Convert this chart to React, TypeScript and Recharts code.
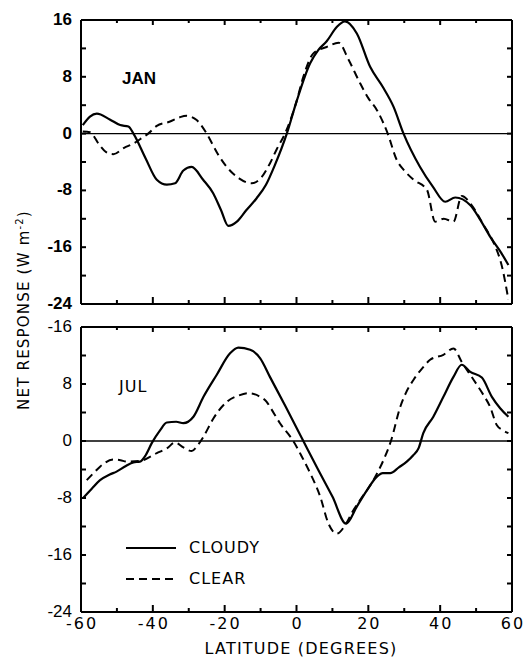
import { LineChart, Line, XAxis, YAxis, ReferenceLine } from 'recharts';

// latitude ticks (every 10, labelled every 20) and response ticks (every 4, labelled every 8)
const latTicks = [-60, -50, -40, -30, -20, -10, 0, 10, 20, 30, 40, 50, 60];
const responseTicks = [-24, -20, -16, -12, -8, -4, 0, 4, 8, 12, 16];

// January
const janCloudyLat = [-59.5, -57.5, -55.6, -52, -49.1, -46.8, -45.4, -42, -38.9, -36.1, -33.8, -31.5, -29.2, -26, -23.2, -21, -19, -16.6, -14, -11.1, -8.5, -6, -2.7, 0, 3.8, 6.1, 8.4, 11.2, 13.5, 16.8, 20.5, 24, 27, 29.8, 34.4, 38, 41.4, 44.2, 48.4, 51, 53.9, 57, 59];
const janCloudy = [1.2, 2.4, 2.8, 2.0, 1.2, 1.0, 0, -3.5, -6.5, -7.2, -7.0, -5.2, -4.7, -6.5, -8.4, -10.8, -13.0, -12.4, -10.8, -9.1, -7.2, -4.4, 0, 4.5, 9.9, 11.8, 13.0, 15.0, 15.8, 14.1, 9.4, 6.6, 3.8, 0, -4.7, -7.5, -9.6, -9.0, -10.1, -12.0, -14.5, -16.8, -18.5];
const janClearLat = [-59.5, -57.5, -55, -53, -51, -48, -45.4, -43, -41.3, -38.9, -35.2, -32.5, -30.6, -27.8, -25, -22, -19.4, -16, -12.5, -10, -7.4, -5.5, -3.2, 0, 1.9, 4.7, 8.4, 11.7, 14.5, 17.7, 20, 22.4, 25.4, 27.9, 30, 32.6, 36.3, 38.6, 41, 43.7, 46, 48.8, 52, 54.9, 57.2, 59];
const janClear = [0.3, 0.2, -1.5, -2.6, -2.9, -2.0, -1.4, -0.6, 0, 1.1, 1.7, 2.3, 2.5, 1.9, 0, -2.8, -4.7, -6.3, -7.0, -6.3, -4.2, -2.2, 0, 4.5, 8.0, 11.3, 12.2, 12.8, 10.4, 7.1, 5.0, 3.3, 0, -3.7, -5.2, -6.5, -7.9, -12.4, -12.0, -12.4, -8.8, -10.1, -12.8, -15.4, -18.7, -23.4];

// July
const julCloudyLat = [-59.4, -57, -54.7, -52, -50.1, -47.5, -45.4, -43.6, -42, -40.3, -38, -36.1, -33.5, -31.5, -28.7, -25.9, -22.2, -18.5, -16.2, -12.9, -10.1, -7.4, -3, 1.9, 6, 10, 13.8, 16.8, 19.5, 22.4, 24, 26.1, 28.5, 30.7, 32.5, 34, 35.3, 38.1, 40.9, 43.7, 46, 48.4, 51.6, 54.4, 56.7, 59];
const julCloudy = [-8.0, -6.7, -5.5, -4.7, -4.3, -3.5, -3.0, -2.9, -2.0, -0.3, 1.5, 2.6, 2.7, 2.5, 3.4, 6.2, 9.3, 12.3, 13.1, 12.8, 11.6, 9.0, 4.8, 0, -4.0, -7.8, -11.6, -9.2, -7.0, -5.0, -4.5, -4.5, -3.7, -2.9, -2.0, -1.0, 1.1, 3.4, 6.2, 9.0, 10.7, 9.7, 8.9, 6.2, 4.6, 3.4];
const julClearLat = [-58.4, -56.5, -54.7, -51, -49, -47.3, -43.6, -38.9, -36, -33.8, -31.5, -29.2, -27.5, -25.9, -23.1, -19.4, -16, -13.4, -10.1, -8.3, -7.4, -4.6, -0.9, 1.5, 3.8, 6.6, 8.9, 11.2, 13.8, 15.5, 17.7, 21.4, 24.2, 26.3, 28.9, 30.5, 32.6, 35, 37.2, 40.9, 43.7, 46, 49.3, 52, 53.9, 55.8, 57.5, 59];
const julClear = [-5.5, -4.5, -3.6, -2.6, -2.7, -2.9, -2.8, -1.7, -1.0, -0.2, -0.9, -1.4, -0.6, 0.6, 3.2, 5.5, 6.4, 6.7, 6.2, 5.5, 4.8, 2.5, 0, -2.2, -4.5, -7.8, -11.6, -13.0, -11.6, -10.0, -8.3, -5.5, -2.7, 0, 4.8, 6.8, 8.6, 10.2, 11.4, 12.1, 13.0, 11.1, 8.6, 6.5, 4.8, 2.2, 1.5, 1.1];

const CLEAR_DASH = '8 5';
const legendItems = [
  { name: 'CLOUDY', dash: undefined as string | undefined },
  { name: 'CLEAR', dash: CLEAR_DASH },
];

const toPoints = (lat: number[], val: number[]) => lat.map((l, i) => ({ lat: l, value: val[i] }));

const W = 525;
const H = 669;
const tickFont = "'DejaVu Sans', sans-serif";
const numFont = "'Liberation Sans', Arial, sans-serif";

const xTick = (where: 'top' | 'bottom', labels: boolean) => (props: any) => {
  const { x, y, payload } = props;
  const major = payload.value % 20 === 0;
  const len = where === 'bottom' ? (major ? 7 : 4) : (major ? 5 : 3);
  const dir = where === 'bottom' ? -1 : 1;
  return (
    <g>
      <line x1={x} x2={x} y1={y} y2={y + dir * len} stroke="#000" strokeWidth={2} />
      {labels && major && (
        <text x={x + 1} y={y + 17} textAnchor="middle" fontFamily={tickFont} fontSize={16} letterSpacing={2} fill="#000">
          {payload.value}
        </text>
      )}
    </g>
  );
};

const yTick = (side: 'left' | 'right', bold: boolean, fmt: (v: number) => string) => (props: any) => {
  const { x, y, payload } = props;
  const dir = side === 'left' ? 1 : -1;
  const labelled = side === 'left' && payload.value % 8 === 0;
  return (
    <g>
      <line x1={x} x2={x + dir * 5} y1={y} y2={y} stroke="#000" strokeWidth={2} />
      {labelled && (
        <text x={x - 9} y={y + 5} textAnchor="end" fontFamily={numFont} fontSize={17} fontWeight={bold ? 700 : 400} fill="#000">
          {fmt(payload.value)}
        </text>
      )}
    </g>
  );
};

const LegendBox = () => (
  <div style={{ position: 'absolute', left: 126, top: 532, fontFamily: tickFont, fontSize: 16, letterSpacing: 1, color: '#000' }}>
    {legendItems.map((item) => (
      <div key={item.name} style={{ display: 'flex', alignItems: 'center', height: 31 }}>
        <svg width={60} height={10}>
          <line x1={0} x2={50} y1={5} y2={5} stroke="#000" strokeWidth={2} strokeDasharray={item.dash} />
        </svg>
        <span style={{ marginLeft: 3 }}>{item.name}</span>
      </div>
    ))}
  </div>
);

interface PanelProps {
  cloudy: { lat: number; value: number }[];
  clear: { lat: number; value: number }[];
  top: number;
  bottom: number;
  bold: boolean;
  xLabels: boolean;
  fmt: (v: number) => string;
}

// axes get 1px of room each (recharts skips a 0-size axis), so margins are 1px short of the plot edges
function Panel({ cloudy, clear, top, bottom, bold, xLabels, fmt }: PanelProps) {
  return (
    <div style={{ position: 'absolute', left: 0, top: 0 }}>
      <LineChart width={W} height={H} margin={{ top: top - 1, bottom: bottom - 1, left: 80, right: 12 }}>
        <XAxis xAxisId="bottom" dataKey="lat" type="number" domain={[-60, 60]} allowDataOverflow ticks={latTicks} interval={0}
          height={1} tickSize={0} tickMargin={0} axisLine={{ stroke: '#000', strokeWidth: 2 }} tickLine={false} tick={xTick('bottom', xLabels)} />
        <XAxis xAxisId="top" orientation="top" dataKey="lat" type="number" domain={[-60, 60]} allowDataOverflow ticks={latTicks} interval={0}
          height={1} tickSize={0} tickMargin={0} axisLine={{ stroke: '#000', strokeWidth: 2 }} tickLine={false} tick={xTick('top', false)} />
        <YAxis yAxisId="left" type="number" domain={[-24, 16]} allowDataOverflow ticks={responseTicks} interval={0}
          width={1} tickSize={0} tickMargin={0} axisLine={{ stroke: '#000', strokeWidth: 2 }} tickLine={false} tick={yTick('left', bold, fmt)} />
        <YAxis yAxisId="right" orientation="right" type="number" domain={[-24, 16]} allowDataOverflow ticks={responseTicks} interval={0}
          width={1} tickSize={0} tickMargin={0} axisLine={{ stroke: '#000', strokeWidth: 2 }} tickLine={false} tick={yTick('right', bold, fmt)} />
        <ReferenceLine xAxisId="bottom" yAxisId="left" y={0} stroke="#000" strokeWidth={1.3} />
        <Line xAxisId="bottom" yAxisId="left" data={cloudy} dataKey="value" name="CLOUDY" type="monotone"
          stroke="#000" strokeWidth={2.2} dot={false} isAnimationActive={false} />
        <Line xAxisId="bottom" yAxisId="left" data={clear} dataKey="value" name="CLEAR" type="monotone"
          stroke="#000" strokeWidth={2} strokeDasharray={CLEAR_DASH} dot={false} isAnimationActive={false} />
      </LineChart>
    </div>
  );
}

export default function App() {
  return (
    <div style={{ position: 'absolute', left: 0, top: 0, width: W, height: H, background: '#fff', overflow: 'hidden' }}>
      <Panel cloudy={toPoints(janCloudyLat, janCloudy)} clear={toPoints(janClearLat, janClear)}
        top={20} bottom={H - 304} bold xLabels={false} fmt={(v) => String(v)} />
      <Panel cloudy={toPoints(julCloudyLat, julCloudy)} clear={toPoints(julClearLat, julClear)}
        top={327} bottom={H - 612} bold={false} xLabels fmt={(v) => (v === 16 ? '-16' : String(v))} />
      <LegendBox />

      <div style={{ position: 'absolute', left: 122, top: 69, fontFamily: numFont, fontWeight: 700, fontSize: 17 }}>JAN</div>
      <div style={{ position: 'absolute', left: 119, top: 377, fontFamily: tickFont, fontSize: 16, letterSpacing: 1 }}>JUL</div>

      <div style={{ position: 'absolute', left: 23, top: 310, transform: 'translate(-50%, -50%) rotate(-90deg)', whiteSpace: 'nowrap',
        fontFamily: tickFont, fontSize: 15, letterSpacing: 1.2 }}>
        NET RESPONSE (W m<sup style={{ fontSize: 10 }}>-2</sup>)
      </div>
      <div style={{ position: 'absolute', left: 301, top: 648, transform: 'translate(-50%, -50%)', whiteSpace: 'nowrap',
        fontFamily: tickFont, fontSize: 16, letterSpacing: 1.2 }}>
        LATITUDE (DEGREES)
      </div>
    </div>
  );
}
